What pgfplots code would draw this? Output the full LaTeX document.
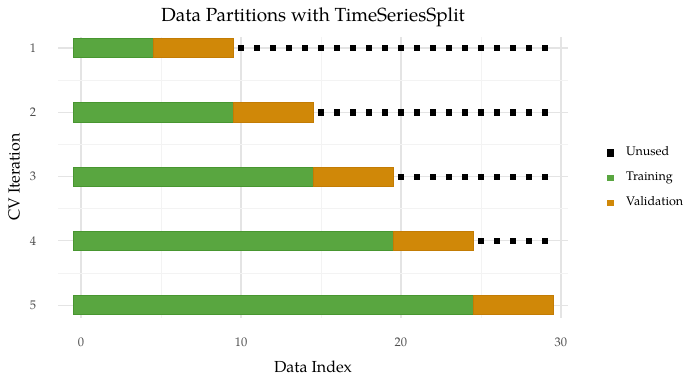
\documentclass[border=0pt]{standalone}
\usepackage{fontspec}
\setmainfont{texgyrepagella}[Extension=.otf, UprightFont=*-regular, BoldFont=*-bold, ItalicFont=*-italic, BoldItalicFont=*-bolditalic]
\usepackage{pgfplots}
\pgfplotsset{compat=1.18}
\definecolor{trainc}{RGB}{89,166,64}
\definecolor{trainb}{RGB}{72,150,48}
\definecolor{valc}{RGB}{208,136,8}
\definecolor{valb}{RGB}{195,124,4}
\definecolor{gridc}{RGB}{228,228,228}
\definecolor{gridm}{RGB}{243,243,243}
\definecolor{tickc}{RGB}{77,77,77}
\begin{document}
\begin{tikzpicture}[x=1bp,y=1bp]
\path[use as bounding box] (0,0) rectangle (700,381);
\begin{axis}[
  at={(58bp,63bp)}, anchor=south west,
  scale only axis, width=510bp, height=281bp,
  xmin=-1.44, xmax=30.44, ymin=0.829, ymax=5.2, y dir=reverse,
  axis line style={draw=none}, tick style={draw=none},
  xtick={0,10,20,30}, minor xtick={5,15,25},
  ytick={1,2,3,4,5}, minor ytick={1.5,2.5,3.5,4.5},
  grid=both,
  major grid style={gridc, line width=1.1bp},
  minor grid style={gridm, line width=0.6bp},
  /pgf/number format/assume math mode=true,
  xticklabel style={font=\fontsize{12.5bp}{14bp}\selectfont, text=tickc, anchor=center, yshift=-24bp},
  yticklabel style={font=\fontsize{12.5bp}{14bp}\selectfont, text=tickc, anchor=center, xshift=-25bp},
  legend cell align=left,
  legend style={at={(1,0.5)}, anchor=west, xshift=38.5bp, draw=none, fill=none,
    inner sep=0pt, outer sep=0pt, row sep=13bp,
    font=\fontsize{12.5bp}{14bp}\selectfont,
    nodes={inner sep=0pt, text height=9bp, text depth=3bp},
    /tikz/every odd column/.append style={column sep=12.5bp}},
]
% Training tiles
\addplot[fill=trainc, draw=trainb, line width=0.8bp, forget plot] coordinates {(-0.5,0.85) (4.5,0.85) (4.5,1.15) (-0.5,1.15)} -- cycle;
\addplot[fill=trainc, draw=trainb, line width=0.8bp, forget plot] coordinates {(-0.5,1.85) (9.5,1.85) (9.5,2.15) (-0.5,2.15)} -- cycle;
\addplot[fill=trainc, draw=trainb, line width=0.8bp, forget plot] coordinates {(-0.5,2.85) (14.5,2.85) (14.5,3.15) (-0.5,3.15)} -- cycle;
\addplot[fill=trainc, draw=trainb, line width=0.8bp, forget plot] coordinates {(-0.5,3.85) (19.5,3.85) (19.5,4.15) (-0.5,4.15)} -- cycle;
\addplot[fill=trainc, draw=trainb, line width=0.8bp, forget plot] coordinates {(-0.5,4.85) (24.5,4.85) (24.5,5.15) (-0.5,5.15)} -- cycle;
% Validation tiles
\addplot[fill=valc, draw=valb, line width=0.8bp, forget plot] coordinates {(4.5,0.85) (9.5,0.85) (9.5,1.15) (4.5,1.15)} -- cycle;
\addplot[fill=valc, draw=valb, line width=0.8bp, forget plot] coordinates {(9.5,1.85) (14.5,1.85) (14.5,2.15) (9.5,2.15)} -- cycle;
\addplot[fill=valc, draw=valb, line width=0.8bp, forget plot] coordinates {(14.5,2.85) (19.5,2.85) (19.5,3.15) (14.5,3.15)} -- cycle;
\addplot[fill=valc, draw=valb, line width=0.8bp, forget plot] coordinates {(19.5,3.85) (24.5,3.85) (24.5,4.15) (19.5,4.15)} -- cycle;
\addplot[fill=valc, draw=valb, line width=0.8bp, forget plot] coordinates {(24.5,4.85) (29.5,4.85) (29.5,5.15) (24.5,5.15)} -- cycle;
% Unused points
\addplot[only marks, mark=square*, mark size=2.6bp, black, forget plot] coordinates {
(10,1)(11,1)(12,1)(13,1)(14,1)(15,1)(16,1)(17,1)(18,1)(19,1)(20,1)(21,1)(22,1)(23,1)(24,1)(25,1)(26,1)(27,1)(28,1)(29,1)
(15,2)(16,2)(17,2)(18,2)(19,2)(20,2)(21,2)(22,2)(23,2)(24,2)(25,2)(26,2)(27,2)(28,2)(29,2)
(20,3)(21,3)(22,3)(23,3)(24,3)(25,3)(26,3)(27,3)(28,3)(29,3)
(25,4)(26,4)(27,4)(28,4)(29,4)
};
\addlegendimage{legend image code/.code={\fill[black] (0bp,-3.4bp) rectangle (6.8bp,3.4bp);}}
\addlegendentry{Unused}
\addlegendimage{legend image code/.code={\fill[trainc] (0.7bp,-2.7bp) rectangle (6.1bp,2.7bp);}}
\addlegendentry{Training}
\addlegendimage{legend image code/.code={\fill[valc] (0.7bp,-2.7bp) rectangle (6.1bp,2.7bp);}}
\addlegendentry{Validation}
\end{axis}
\node[font=\fontsize{19bp}{22bp}\selectfont] at (313,364) {Data Partitions with TimeSeriesSplit};
\node[font=\fontsize{16bp}{18bp}\selectfont] at (313,14) {Data Index};
\node[font=\fontsize{16bp}{18bp}\selectfont, rotate=90] at (14,204) {CV Iteration};
\end{tikzpicture}
\end{document}
